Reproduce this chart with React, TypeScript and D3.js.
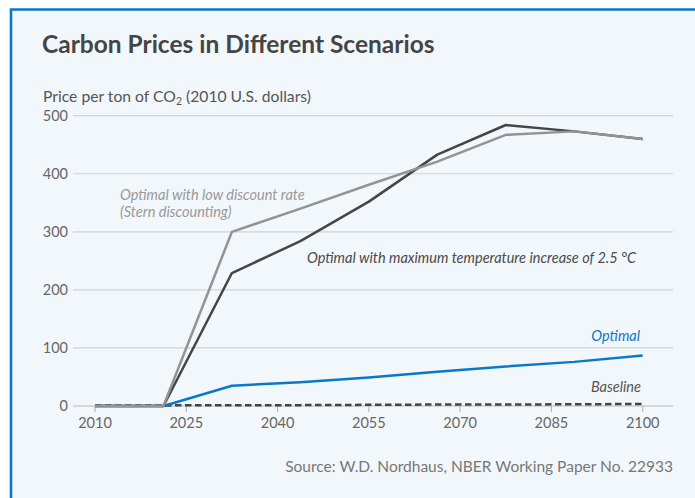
import React, { useRef, useEffect } from 'react';
import * as d3 from 'd3';

// model periods as drawn in the chart
const years = [2010, 2021.25, 2032.5, 2043.75, 2055, 2066.25, 2077.5, 2088.75, 2100];
const maxTempPrices = [0, 0, 229, 284, 352, 433, 484, 473, 460];
const sternPrices = [0, 0, 300, 340, 381, 421, 467, 473, 460];
const optimalPrices = [0, 0, 35, 41, 49, 59, 68, 76, 87];
const baselinePrices = [1, 1, 1.5, 1.5, 2, 2.5, 2.5, 3, 3.5];

const xTicks = [2010, 2025, 2040, 2055, 2070, 2085, 2100];
const yTicks = [0, 100, 200, 300, 400, 500];

const FONT = 'Lato, "Open Sans", sans-serif';

const App = () => {
  const svgRef = useRef<SVGSVGElement>(null);

  useEffect(() => {
    if (!svgRef.current) return;
    const width = 695;
    const height = 498;

    d3.select(svgRef.current).selectAll('*').remove();
    const svg = d3.select(svgRef.current)
      .attr('width', width)
      .attr('height', height);

    // panel background and blue frame
    svg.append('rect')
      .attr('x', 11).attr('y', 9.5)
      .attr('width', width).attr('height', height)
      .attr('fill', '#f2f7fb');
    svg.append('path')
      .attr('d', `M11,${height} V9.5 H${width}`)
      .attr('fill', 'none')
      .attr('stroke', '#0a78c8')
      .attr('stroke-width', 2.6);

    // title
    svg.append('text')
      .attr('x', 42).attr('y', 53)
      .attr('font-family', FONT)
      .attr('font-weight', 700)
      .attr('font-size', 24.5)
      .attr('fill', '#454545')
      .text('Carbon Prices in Different Scenarios');

    // axis caption with subscript
    const cap = svg.append('text')
      .attr('x', 43).attr('y', 102)
      .attr('font-family', FONT)
      .attr('font-size', 15.7)
      .attr('fill', '#555');
    cap.append('tspan').text('Price per ton of CO');
    cap.append('tspan').attr('font-size', 10.5).attr('dy', 3).text('2');
    cap.append('tspan').attr('dy', -3).text(' (2010 U.S. dollars)');

    const xScale = d3.scaleLinear().domain([2010, 2100]).range([95, 642.7]);
    const yScale = d3.scaleLinear().domain([0, 500]).range([406, 115.7]);

    // gridlines
    svg.append('g')
      .selectAll('line')
      .data(yTicks)
      .enter()
      .append('line')
      .attr('x1', 73).attr('x2', 673)
      .attr('y1', d => yScale(d)).attr('y2', d => yScale(d))
      .attr('stroke', d => (d === 0 ? '#b8b8b8' : '#d2d4d6'))
      .attr('stroke-width', 1.2);

    // y labels
    svg.append('g')
      .selectAll('text')
      .data(yTicks)
      .enter()
      .append('text')
      .attr('x', 68)
      .attr('y', d => yScale(d) + 5)
      .attr('text-anchor', 'end')
      .attr('font-family', FONT)
      .attr('font-size', 14.5)
      .attr('fill', '#666')
      .text(d => d);

    // x ticks and labels
    const xg = svg.append('g');
    xg.selectAll('line')
      .data(xTicks)
      .enter()
      .append('line')
      .attr('x1', d => xScale(d)).attr('x2', d => xScale(d))
      .attr('y1', 406).attr('y2', 412)
      .attr('stroke', '#b8b8b8')
      .attr('stroke-width', 1.2);
    xg.selectAll('text')
      .data(xTicks)
      .enter()
      .append('text')
      .attr('x', d => xScale(d))
      .attr('y', 428)
      .attr('text-anchor', 'middle')
      .attr('font-family', FONT)
      .attr('font-size', 14.5)
      .attr('fill', '#666')
      .text(d => d);

    const line = d3.line<number>()
      .x((d, i) => xScale(years[i]))
      .y(d => yScale(d));

    const series = [
      { values: baselinePrices, color: '#444', dash: '6.5,3.5' },
      { values: optimalPrices, color: '#0a78c8', dash: null },
      { values: maxTempPrices, color: '#454545', dash: null },
      { values: sternPrices, color: '#939393', dash: null },
    ];

    svg.append('g')
      .selectAll('path')
      .data(series)
      .enter()
      .append('path')
      .attr('d', d => line(d.values))
      .attr('fill', 'none')
      .attr('stroke', d => d.color)
      .attr('stroke-width', 2.5)
      .attr('stroke-linejoin', 'round')
      .attr('stroke-dasharray', d => d.dash);

    // series labels
    const labels = [
      { text: 'Optimal with low discount rate', x: 120, y: 199.5, anchor: 'start', color: '#999' },
      { text: '(Stern discounting)', x: 120, y: 217, anchor: 'start', color: '#999' },
      { text: 'Optimal with maximum temperature increase of 2.5 °C', x: 307, y: 263, anchor: 'start', color: '#4a4a4a' },
      { text: 'Optimal', x: 640, y: 340.5, anchor: 'end', color: '#0a78c8' },
      { text: 'Baseline', x: 641, y: 391.5, anchor: 'end', color: '#555' },
    ];
    svg.append('g')
      .selectAll('text')
      .data(labels)
      .enter()
      .append('text')
      .attr('x', d => d.x)
      .attr('y', d => d.y)
      .attr('text-anchor', d => d.anchor)
      .attr('font-family', FONT)
      .attr('font-style', 'italic')
      .attr('font-size', 14.5)
      .attr('fill', d => d.color)
      .text(d => d.text);

    // source note
    svg.append('text')
      .attr('x', 673).attr('y', 472)
      .attr('text-anchor', 'end')
      .attr('font-family', FONT)
      .attr('font-size', 15.5)
      .attr('fill', '#777')
      .text('Source: W.D. Nordhaus, NBER Working Paper No. 22933');
  }, []);

  return (
    <svg ref={svgRef} style={{ position: 'absolute', left: 0, top: 0, display: 'block' }}></svg>
  );
};

export default App;
